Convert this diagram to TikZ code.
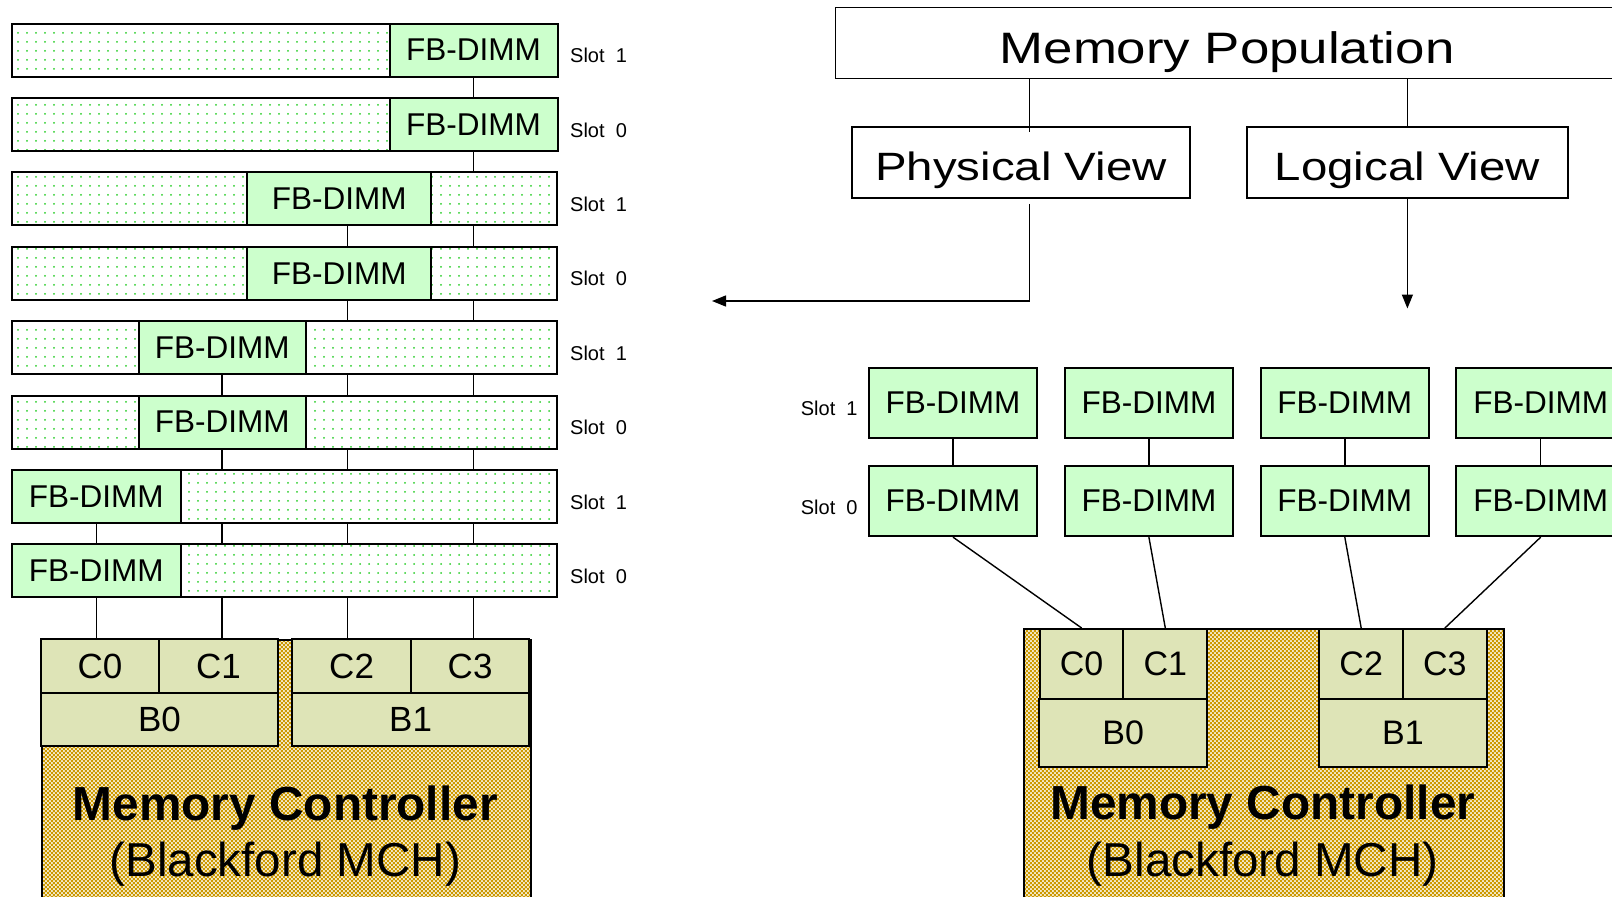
\documentclass[tikz,border=0pt]{standalone}
\usepackage{fontspec}
\setmainfont{Liberation Sans}
\newfontfamily\widefont[FakeStretch=1.2]{Liberation Sans}
\usepackage{tikz}
\usetikzlibrary{arrows.meta,patterns,patterns.meta,positioning}
\usepackage{xcolor}

\definecolor{dimmgreen}{RGB}{204,255,204}
\definecolor{dotgreen}{RGB}{40,205,40}
\definecolor{chanolive}{RGB}{222,228,183}
\definecolor{mchgold}{RGB}{204,153,0}

\pgfdeclarepatternformonly{goldcheck}{\pgfqpoint{0pt}{0pt}}{\pgfqpoint{4.4pt}{4.4pt}}{\pgfqpoint{4.4pt}{4.4pt}}{%
  \pgfpathrectangle{\pgfqpoint{0pt}{0pt}}{\pgfqpoint{2.2pt}{2.2pt}}%
  \pgfpathrectangle{\pgfqpoint{2.2pt}{2.2pt}}{\pgfqpoint{2.2pt}{2.2pt}}%
  \pgfusepath{fill}}

\tikzset{
  membar/.style={draw, line width=2pt, pattern={Dots[distance=9pt,radius=1pt]}, pattern color=dotgreen, minimum width=545pt, minimum height=53pt, inner sep=0pt},
  dimm/.style={draw, line width=2pt, fill=dimmgreen, minimum height=53pt, inner sep=0pt, font=\fontsize{31.5}{36}\selectfont},
  dimmbox/.style={dimm, minimum width=168.5pt, minimum height=70.5pt},
  slotlbl/.style={inner sep=0pt, font=\fontsize{20}{24}\selectfont},
  chan/.style={draw, line width=2pt, fill=chanolive, inner sep=0pt, font=\fontsize{35}{40}\selectfont},
  mch/.style={draw, line width=2pt, preaction={fill=mchgold!22}, pattern=goldcheck, pattern color=mchgold, inner sep=0pt},
  mcname/.style={anchor=base, inner sep=0pt, font=\fontsize{47.8}{54}\selectfont\bfseries},
  mcsub/.style={anchor=base, inner sep=0pt, font=\fontsize{47.6}{54}\selectfont},
  viewbox/.style={draw, line width=1.5pt, inner sep=0pt, minimum height=71pt, text height=35pt, text depth=0pt, font=\widefont\fontsize{39.5}{45}\selectfont}
}

\begin{document}
\begin{tikzpicture}[x=1pt,y=1pt,>={Triangle[width=11pt,length=14pt]},node distance=74.4pt,every edge/.style={draw,line width=1.4pt}]
	\useasboundingbox (0,0) rectangle (1612,-897);
	\clip (0,0) rectangle (1612,-897);

	% physical view: eight slots stacked
	\node [membar] (bar1) at (284.5,-50) {};
	\node [membar] (bar2) [below of = bar1] {};
	\node [membar] (bar3) [below of = bar2] {};
	\node [membar] (bar4) [below of = bar3] {};
	\node [membar] (bar5) [below of = bar4] {};
	\node [membar] (bar6) [below of = bar5] {};
	\node [membar] (bar7) [below of = bar6] {};
	\node [membar] (bar8) [below of = bar7] {};

	\node [dimm, minimum width=168pt] (ldimm1) at (473.5,-50) {FB-DIMM};
	\node [dimm, minimum width=168pt] (ldimm2) [below of = ldimm1] {FB-DIMM};
	\node [dimm, minimum width=184.5pt] (ldimm3) at (339.2,-198.8) {FB-DIMM};
	\node [dimm, minimum width=184.5pt] (ldimm4) [below of = ldimm3] {FB-DIMM};
	\node [dimm, minimum width=167pt] (ldimm5) at (222.3,-347.6) {FB-DIMM};
	\node [dimm, minimum width=167pt] (ldimm6) [below of = ldimm5] {FB-DIMM};
	\node [dimm, minimum width=168.5pt] (ldimm7) at (96.3,-496.4) {FB-DIMM};
	\node [dimm, minimum width=168.5pt] (ldimm8) [below of = ldimm7] {FB-DIMM};

	\node [slotlbl, right=12pt of bar1, yshift=-5.5pt] (lslot1) {Slot\ \ 1};
	\node [slotlbl, right=12pt of bar2, yshift=-5.5pt] (lslot2) {Slot\ \ 0};
	\node [slotlbl, right=12pt of bar3, yshift=-5.5pt] (lslot3) {Slot\ \ 1};
	\node [slotlbl, right=12pt of bar4, yshift=-5.5pt] (lslot4) {Slot\ \ 0};
	\node [slotlbl, right=12pt of bar5, yshift=-5.5pt] (lslot5) {Slot\ \ 1};
	\node [slotlbl, right=12pt of bar6, yshift=-5.5pt] (lslot6) {Slot\ \ 0};
	\node [slotlbl, right=12pt of bar7, yshift=-5.5pt] (lslot7) {Slot\ \ 1};
	\node [slotlbl, right=12pt of bar8, yshift=-5.5pt] (lslot8) {Slot\ \ 0};

	% left controller
	\node [mch, minimum width=488.6pt, minimum height=280pt, anchor=north west] (lmch) at (41,-639) {};
	\node [chan, minimum width=118.5pt, minimum height=53.5pt] (lc0) at (100,-666) {C0};
	\node [chan, minimum width=118.5pt, minimum height=53.5pt, node distance=118.5pt] (lc1) [right of = lc0] {C1};
	\node [chan, minimum width=118.5pt, minimum height=53.5pt] (lc2) at (351.6,-666) {C2};
	\node [chan, minimum width=118.5pt, minimum height=53.5pt, node distance=118.5pt] (lc3) [right of = lc2] {C3};
	\node [chan, minimum width=237pt, minimum height=53pt] (lb0) at (159.5,-719.5) {B0};
	\node [chan, minimum width=237pt, minimum height=53pt] (lb1) at (410.6,-719.5) {B1};
	\node [mcname] (lmcname) at (285.3,-820) {Memory Controller};
	\node [mcsub] (lmcsub) at (285.3,-876) {(Blackford MCH)};

	\coordinate (ch0) at (96.5,0);
	\coordinate (ch1) at (222,0);
	\coordinate (ch2) at (347.5,0);
	\coordinate (ch3) at (473.5,0);
	\path (bar1.south -| ch3) edge (bar2.north -| ch3);
	\path (bar2.south -| ch3) edge (bar3.north -| ch3);
	\path (bar3.south -| ch2) edge (bar4.north -| ch2) (bar3.south -| ch3) edge (bar4.north -| ch3);
	\path (bar4.south -| ch2) edge (bar5.north -| ch2) (bar4.south -| ch3) edge (bar5.north -| ch3);
	\path (bar5.south -| ch1) edge (bar6.north -| ch1) (bar5.south -| ch2) edge (bar6.north -| ch2);
	\path (bar5.south -| ch3) edge (bar6.north -| ch3);
	\path (bar6.south -| ch1) edge (bar7.north -| ch1) (bar6.south -| ch2) edge (bar7.north -| ch2);
	\path (bar6.south -| ch3) edge (bar7.north -| ch3);
	\path (bar7.south -| ch0) edge (bar8.north -| ch0) (bar7.south -| ch1) edge (bar8.north -| ch1);
	\path (bar7.south -| ch2) edge (bar8.north -| ch2) (bar7.south -| ch3) edge (bar8.north -| ch3);
	\path (bar8.south -| ch0) edge (lc0.north -| ch0) (bar8.south -| ch1) edge (lc1.north -| ch1);
	\path (bar8.south -| ch2) edge (lc2.north -| ch2) (bar8.south -| ch3) edge (lc3.north -| ch3);

	% population tree
	\node [viewbox, minimum width=782.8pt, text height=41.1pt, font=\widefont\fontsize{44}{50}\selectfont] (mempop) at (1227.1,-42.75) {Memory Population};
	\node [viewbox, minimum width=338pt] (physview) at (1021,-162.5) {Physical View};
	\node [viewbox, minimum width=320.8pt] (logview) at (1407.4,-162.5) {Logical View};
	\coordinate (physbend) at (1029.5,-301);
	\coordinate (physend) at (712,-301);
	\coordinate (logend) at (1407.4,-308.5);
	\path (mempop.south -| physbend) edge [shorten >=-6pt] (physview.north -| physbend);
	\path (mempop.south -| logview) edge (logview.north);
	\draw [->, line width=1.4pt, shorten <=5pt] (physview.south -| physbend) -- (physbend) -- (physend);
	\path (logview) edge [->] (logend);

	% logical view: four channels
	\begin{scope}[node distance=195.9pt]
	\node [dimmbox] (r11) at (953,-402.8) {FB-DIMM};
	\node [dimmbox] (r21) [right of = r11] {FB-DIMM};
	\node [dimmbox] (r31) [right of = r21] {FB-DIMM};
	\node [dimmbox] (r41) [right of = r31] {FB-DIMM};
	\node [dimmbox] (r10) at (953,-500.9) {FB-DIMM};
	\node [dimmbox] (r20) [right of = r10] {FB-DIMM};
	\node [dimmbox] (r30) [right of = r20] {FB-DIMM};
	\node [dimmbox] (r40) [right of = r30] {FB-DIMM};
	\end{scope}
	\node [slotlbl, left=10pt of r11, yshift=-6pt] (rslot1) {Slot\ \ 1};
	\node [slotlbl, left=10pt of r10, yshift=-6pt] (rslot0) {Slot\ \ 0};

	% right controller
	\node [mch, minimum width=479.5pt, minimum height=290pt, anchor=north west] (rmch) at (1023,-628) {};
	\node [chan, minimum width=84pt, minimum height=69.5pt, font=\fontsize{34}{40}\selectfont] (rc0) at (1081.6,-663.75) {C0};
	\node [chan, minimum width=84pt, minimum height=69.5pt, font=\fontsize{34}{40}\selectfont, node distance=83.7pt] (rc1) [right of = rc0] {C1};
	\node [chan, minimum width=84pt, minimum height=69.5pt, font=\fontsize{34}{40}\selectfont] (rc2) at (1361.2,-663.75) {C2};
	\node [chan, minimum width=84pt, minimum height=69.5pt, font=\fontsize{34}{40}\selectfont, node distance=83.7pt] (rc3) [right of = rc2] {C3};
	\node [chan, minimum width=168pt, minimum height=68.5pt, font=\fontsize{34}{40}\selectfont] (rb0) at (1123.2,-732.75) {B0};
	\node [chan, minimum width=168pt, minimum height=68.5pt, font=\fontsize{34}{40}\selectfont] (rb1) at (1403,-732.75) {B1};
	\node [mcname] (rmcname) at (1262.75,-819) {Memory Controller};
	\node [mcsub] (rmcsub) at (1262.75,-876.5) {(Blackford MCH)};

	\path (r11) edge (r10);
	\path (r21) edge (r20);
	\path (r31) edge (r30);
	\path (r41) edge (r40);
	\path (r10.south) edge (rc0.north);
	\path (r20.south) edge (rc1.north);
	\path (r30.south) edge (rc2.north);
	\path (r40.south) edge (rc3.north);
\end{tikzpicture}
\end{document}
